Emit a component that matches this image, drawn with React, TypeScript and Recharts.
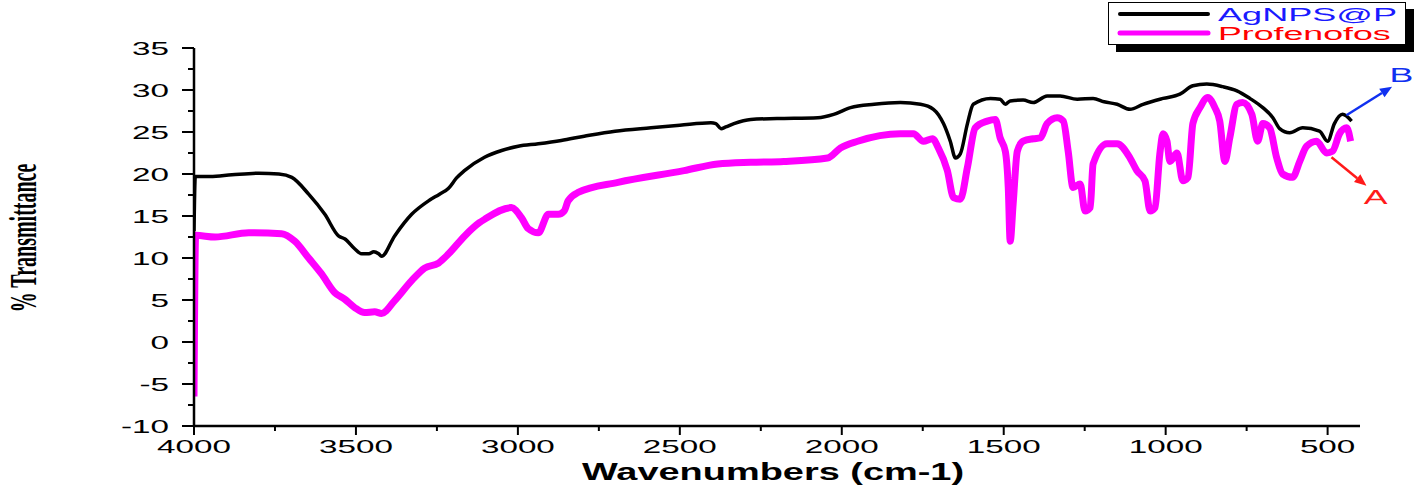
import { LineChart, Line, XAxis, YAxis, ReferenceLine, ReferenceDot, Label } from 'recharts'

// AgNPS@P (black) – wavenumber / % transmittance
const agWavenumber = [
  4000, 3996, 3950, 3883, 3800, 3738, 3698, 3646, 3596, 3553, 3535, 3504, 3482, 3460, 3445, 3430, 3421,
  3381, 3328, 3276, 3242, 3214, 3190, 3165, 3103, 3050, 2999, 2937, 2866, 2795, 2700, 2589, 2500, 2404,
  2389, 2373, 2358, 2333, 2281, 2200, 2074, 2025, 1973, 1900, 1819, 1757, 1717, 1686, 1665, 1649, 1634,
  1612, 1594, 1541, 1511, 1495, 1480, 1440, 1409, 1366, 1326, 1273, 1224, 1190, 1150, 1110, 1070, 1008,
  956, 916, 873, 824, 780, 740, 700, 669, 648, 617, 577, 525, 500, 479, 454, 426,
]
const agTransmittance = [
  13.2, 19.7, 19.7, 19.9, 20.1, 20.0, 19.6, 17.6, 15.2, 12.6, 12.3, 11.1, 10.5, 10.5, 10.75, 10.5, 10.2,
  12.6, 15.2, 16.8, 17.6, 18.3, 19.5, 20.4, 22.0, 22.8, 23.3, 23.6, 24.0, 24.5, 25.1, 25.5, 25.8, 26.1,
  26.0, 25.4, 25.6, 26.0, 26.5, 26.6, 26.7, 27.1, 27.9, 28.3, 28.5, 28.3, 27.7, 26.0, 23.9, 21.9, 22.4,
  26.0, 28.3, 29.0, 28.9, 28.3, 28.7, 28.8, 28.5, 29.3, 29.3, 28.9, 29.0, 28.6, 28.3, 27.7, 28.3, 29.0,
  29.5, 30.5, 30.7, 30.4, 29.9, 29.0, 27.9, 26.7, 25.4, 24.9, 25.5, 25.1, 23.9, 26.0, 27.1, 26.3,
]

// Profenofos (magenta)
const proWavenumber = [
  4000, 3995, 3935, 3831, 3729, 3689, 3646, 3606, 3566, 3535, 3504, 3473, 3442, 3421, 3381, 3328, 3288,
  3245, 3214, 3165, 3119, 3103, 3020, 2989, 2968, 2937, 2906, 2875, 2857, 2845, 2814, 2691, 2487, 2383,
  2281, 2179, 2044, 2004, 1951, 1819, 1779, 1748, 1720, 1702, 1674, 1655, 1634, 1612, 1588, 1551, 1526,
  1511, 1495, 1486, 1480, 1471, 1458, 1440, 1409, 1387, 1366, 1335, 1316, 1301, 1286, 1264, 1249, 1233,
  1224, 1181, 1150, 1110, 1089, 1064, 1048, 1033, 1018, 1008, 996, 987, 965, 947, 931, 916, 894, 870,
  848, 833, 817, 802, 780, 762, 734, 716, 700, 679, 657, 639, 608, 586, 565, 534, 503, 485, 463, 441, 429,
]
const proTransmittance = [
  -6.5, 12.7, 12.5, 13.0, 12.9, 12.0, 10.0, 8.1, 5.9, 5.1, 4.1, 3.5, 3.6, 3.4, 4.9, 7.3, 8.8,
  9.4, 10.5, 12.6, 14.2, 14.6, 16.0, 14.8, 13.5, 13.0, 15.2, 15.2, 15.6, 16.8, 17.8, 19.0, 20.4, 21.2,
  21.4, 21.5, 21.9, 23.1, 23.9, 24.8, 24.8, 23.9, 24.2, 23.1, 20.4, 17.2, 17.0, 20.8, 25.5, 26.3, 26.5,
  24.3, 22.7, 18.4, 12.0, 16.4, 22.7, 23.9, 24.2, 24.3, 26.0, 26.7, 26.3, 22.7, 18.4, 18.8, 15.6, 16.0,
  21.2, 23.6, 23.6, 21.9, 20.4, 19.2, 15.6, 16.0, 22.4, 24.8, 23.9, 21.5, 22.5, 19.2, 19.6, 26.0, 27.9, 29.1,
  27.9, 26.3, 21.5, 24.3, 28.3, 28.5, 27.1, 23.9, 26.0, 25.5, 21.9, 20.0, 19.6, 21.5, 23.3, 23.9, 22.5, 22.7, 24.8, 25.5, 23.9,
]

const xTicks = [4000, 3750, 3500, 3250, 3000, 2750, 2500, 2250, 2000, 1750, 1500, 1250, 1000, 750, 500]
const yTicks = [-10, -7.5, -5, -2.5, 0, 2.5, 5, 7.5, 10, 12.5, 15, 17.5, 20, 22.5, 25, 27.5, 30, 32.5, 35]

const agData = agWavenumber.map((wn, i) => ({ wn, t: agTransmittance[i] }))
const proData = proWavenumber.map((wn, i) => ({ wn, t: proTransmittance[i] }))

const SANS = 'Liberation Sans, Arial, sans-serif'
const STRETCH = 1.75

const XTick = (props: any) => {
  const { x, y, payload } = props
  const v = payload.value
  const major = v % 500 === 0
  return (
    <g transform={`translate(${x},${y})`}>
      <line x1={0} x2={0} y1={0} y2={major ? 9 : 5} stroke="#000" strokeWidth={2} />
      {major && (
        <text transform={`translate(0,27) scale(${STRETCH},1)`} textAnchor="middle" fontFamily={SANS} fontSize={19} fill="#000">
          {v}
        </text>
      )}
    </g>
  )
}

const YTick = (props: any) => {
  const { x, y, payload } = props
  const v = payload.value
  const major = v % 5 === 0
  return (
    <g transform={`translate(${x},${y})`}>
      <line x1={0} x2={major ? -12 : -6} y1={0} y2={0} stroke="#000" strokeWidth={2} />
      {major && (
        <text transform={`translate(-25,7) scale(${STRETCH},1)`} textAnchor="end" fontFamily={SANS} fontSize={19} fill="#000">
          {v}
        </text>
      )}
    </g>
  )
}

const XTitle = (props: any) => {
  const vb = props.viewBox
  return (
    <text
      transform={`translate(${vb.x + vb.width / 2 - 4},480) scale(1.65,1)`}
      textAnchor="middle"
      fontFamily={SANS}
      fontWeight="bold"
      fontSize={23}
      fill="#000"
    >
      Wavenumbers (cm-1)
    </text>
  )
}

const YTitle = () => (
  <text
    transform="translate(36,238) scale(1.9,1) rotate(-90)"
    textAnchor="middle"
    fontFamily="Liberation Serif, Times New Roman, serif"
    fontWeight="bold"
    fontSize={20}
    fill="#000"
  >
    % Transmittance
  </text>
)

const arrow = (color: string) => (p: any) => {
  const { x1, y1, x2, y2 } = p
  const ang = Math.atan2(y2 - y1, x2 - x1)
  const len = 12
  const half = 5
  const bx = x2 - len * Math.cos(ang)
  const by = y2 - len * Math.sin(ang)
  const px = -Math.sin(ang) * half
  const py = Math.cos(ang) * half
  return (
    <g>
      <line x1={x1} y1={y1} x2={bx} y2={by} stroke={color} strokeWidth={2.5} />
      <polygon points={`${x2},${y2} ${bx + px},${by + py} ${bx - px},${by - py}`} fill={color} />
    </g>
  )
}

const letter = (text: string, color: string) => (p: any) => (
  <text transform={`translate(${p.cx},${p.cy + 8}) scale(1.7,1)`} textAnchor="middle" fontFamily={SANS} fontSize={21} fill={color}>
    {text}
  </text>
)

function LegendBox() {
  return (
    <svg width={1418} height={60} style={{ position: 'absolute', left: 0, top: 0, pointerEvents: 'none' }}>
      <rect x={1116} y={9} width={298} height={43} fill="#000" />
      <rect x={1108.5} y={2.5} width={297} height={42} fill="#fff" stroke="#000" strokeWidth={1} />
      <line x1={1120} x2={1208} y1={14} y2={14} stroke="#000" strokeWidth={4} strokeLinecap="round" />
      <text transform="translate(1218,21) scale(1.9,1)" fontFamily={SANS} fontSize={19} fill="#1a1aff">
        AgNPS@P
      </text>
      <line x1={1120} x2={1208} y1={33} y2={33} stroke="#ff00ff" strokeWidth={5} strokeLinecap="round" />
      <text transform="translate(1218,40) scale(1.88,1)" fontFamily={SANS} fontSize={19} fill="#ff0000">
        Profenofos
      </text>
    </svg>
  )
}

export default function App() {
  return (
    <div style={{ position: 'absolute', left: 0, top: 0, width: 1418, height: 489, background: '#fff' }}>
      <LineChart width={1418} height={489} margin={{ top: 48, right: 58, bottom: 33, left: 134 }}>
        <XAxis
          dataKey="wn"
          type="number"
          domain={[400, 4000]}
          reversed
          ticks={xTicks}
          interval={0}
          allowDataOverflow
          height={30}
          tickSize={0}
          tickMargin={0}
          tick={<XTick />}
          axisLine={{ stroke: '#000', strokeWidth: 2.5 }}
        >
          <Label content={XTitle} />
        </XAxis>
        <YAxis
          type="number"
          domain={[-10, 35]}
          ticks={yTicks}
          interval={0}
          allowDataOverflow
          width={60}
          tickSize={0}
          tickMargin={0}
          tick={<YTick />}
          axisLine={{ stroke: '#000', strokeWidth: 2.5 }}
        >
          <Label content={YTitle} />
        </YAxis>
        <Line
          data={proData}
          dataKey="t"
          name="Profenofos"
          type="monotone"
          stroke="#ff00ff"
          strokeWidth={7}
          strokeLinejoin="round"
          dot={false}
          isAnimationActive={false}
        />
        <Line
          data={agData}
          dataKey="t"
          name="AgNPS@P"
          type="monotone"
          stroke="#000000"
          strokeWidth={3.5}
          strokeLinejoin="round"
          dot={false}
          isAnimationActive={false}
        />
        <ReferenceLine
          segment={[{ x: 442, y: 27.0 }, { x: 301, y: 30.4 }]}
          ifOverflow="visible"
          shape={arrow('#1030f0')}
        />
        <ReferenceLine
          segment={[{ x: 488, y: 22.0 }, { x: 380, y: 18.6 }]}
          ifOverflow="visible"
          shape={arrow('#ff1a1a')}
        />
        <ReferenceDot x={272} y={31.9} r={0} ifOverflow="visible" shape={letter('B', '#1030f0')} />
        <ReferenceDot x={352} y={17.4} r={0} ifOverflow="visible" shape={letter('A', '#ff1a1a')} />
      </LineChart>
      <LegendBox />
    </div>
  )
}
